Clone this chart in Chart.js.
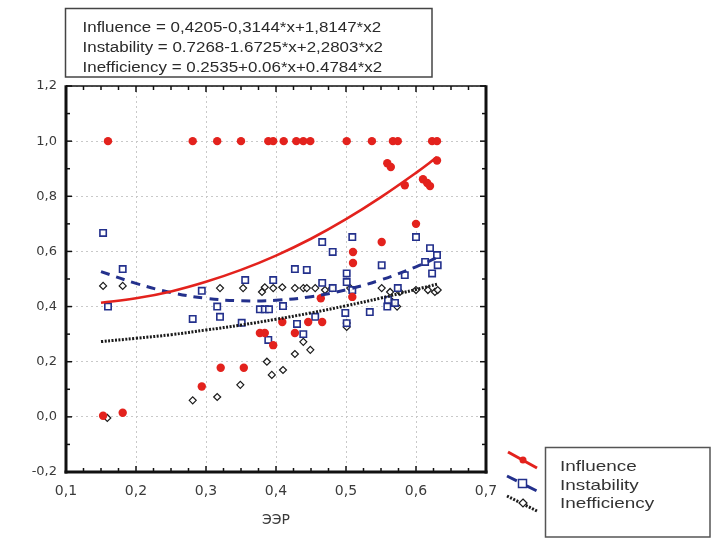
<!DOCTYPE html>
<html>
<head>
<meta charset="utf-8">
<script src="https://cdn.jsdelivr.net/npm/chart.js@4/dist/chart.umd.min.js"></script>
<style>
  html, body { margin: 0; padding: 0; background: #fff; }
  #wrap { width: 717px; height: 539px; position: relative; }
</style>
</head>
<body>
<div id="wrap"><canvas id="chart"></canvas></div>
<script>
// Series names and the fitted equations shown in the box
const seriesNames = ["Influence", "Instability", "Inefficiency"];
const equationLines = [
  "Influence = 0,4205-0,3144*x+1,8147*x2",
  "Instability = 0.7268-1.6725*x+2,2803*x2",
  "Inefficiency = 0.2535+0.06*x+0.4784*x2",
];
const xTitle = "ЭЭР";

// Influence points (red dots)
const influenceX = [0.153, 0.181, 0.16, 0.281, 0.294, 0.316, 0.321, 0.35, 0.354, 0.377, 0.384, 0.389, 0.396, 0.396, 0.409, 0.411, 0.427, 0.429, 0.439, 0.446, 0.449, 0.464, 0.466, 0.501, 0.509, 0.51, 0.51, 0.537, 0.551, 0.559, 0.564, 0.567, 0.574, 0.584, 0.6, 0.61, 0.616, 0.62, 0.623, 0.63, 0.63];
const influenceY = [0.004, 0.015, 1.0, 1.0, 0.11, 1.0, 0.178, 1.0, 0.178, 0.304, 0.304, 1.0, 1.0, 0.26, 0.344, 1.0, 0.304, 1.0, 1.0, 0.344, 1.0, 0.43, 0.344, 1.0, 0.435, 0.598, 0.558, 1.0, 0.634, 0.92, 0.906, 1.0, 1.0, 0.84, 0.7, 0.862, 0.848, 0.837, 1.0, 1.0, 0.93];

// Instability points (blue squares)
const instabilityX = [0.153, 0.16, 0.181, 0.281, 0.294, 0.316, 0.32, 0.351, 0.356, 0.377, 0.384, 0.39, 0.389, 0.396, 0.41, 0.427, 0.43, 0.439, 0.444, 0.456, 0.466, 0.466, 0.481, 0.481, 0.499, 0.501, 0.501, 0.501, 0.509, 0.509, 0.534, 0.551, 0.559, 0.56, 0.57, 0.574, 0.584, 0.6, 0.613, 0.62, 0.623, 0.63, 0.631];
const instabilityY = [0.667, 0.4, 0.536, 0.355, 0.457, 0.4, 0.363, 0.341, 0.496, 0.39, 0.39, 0.39, 0.279, 0.496, 0.402, 0.536, 0.337, 0.3, 0.533, 0.363, 0.634, 0.486, 0.598, 0.467, 0.377, 0.52, 0.489, 0.34, 0.652, 0.46, 0.38, 0.55, 0.4, 0.424, 0.413, 0.467, 0.514, 0.652, 0.562, 0.612, 0.52, 0.587, 0.55];

// Inefficiency points (black diamonds)
const inefficiencyX = [0.153, 0.159, 0.181, 0.281, 0.316, 0.32, 0.349, 0.353, 0.38, 0.384, 0.387, 0.394, 0.396, 0.409, 0.41, 0.427, 0.427, 0.439, 0.439, 0.444, 0.449, 0.456, 0.47, 0.48, 0.501, 0.501, 0.506, 0.551, 0.563, 0.566, 0.573, 0.577, 0.6, 0.617, 0.627, 0.631];
const inefficiencyY = [0.475, -0.004, 0.475, 0.06, 0.072, 0.467, 0.116, 0.467, 0.453, 0.47, 0.2, 0.152, 0.467, 0.47, 0.17, 0.467, 0.228, 0.467, 0.272, 0.467, 0.243, 0.467, 0.46, 0.467, 0.326, 0.34, 0.467, 0.467, 0.453, 0.417, 0.4, 0.453, 0.46, 0.46, 0.453, 0.46];

// Fitted curves
const fitX = [0.15, 0.2, 0.25, 0.3, 0.35, 0.4, 0.45, 0.5, 0.55, 0.6, 0.63];
const influenceFit = [0.414, 0.43, 0.455, 0.49, 0.533, 0.585, 0.646, 0.717, 0.797, 0.885, 0.942];
const instabilityFit = [0.527, 0.484, 0.451, 0.43, 0.421, 0.423, 0.436, 0.461, 0.497, 0.544, 0.578];
const inefficiencyFit = [0.273, 0.285, 0.298, 0.315, 0.333, 0.354, 0.377, 0.403, 0.431, 0.462, 0.481];

// Axis ranges
const xMin = 0.1, xMax = 0.7, xStep = 0.1;
const yMin = -0.2, yMax = 1.2, yStep = 0.2;

// Colours
const red = "#e3221d";
const blue = "#23308c";
const black = "#1a1a1a";

const toPoints = (xs, ys) => xs.map((x, i) => ({ x: x, y: ys[i] }));
const commaLabel = (v) => {
  const n = Math.abs(v) < 1e-9 ? 0 : Number(v);
  return n.toFixed(1).replace(".", ",");
};

// draw text squeezed wider, the source image is stretched sideways
function stretchText(ctx, text, x, y, sx) {
  ctx.save();
  ctx.translate(x, y);
  ctx.scale(sx, 1);
  ctx.fillText(text, 0, 0);
  ctx.restore();
}

function seg(ctx, x1, y1, x2, y2) {
  ctx.beginPath();
  ctx.moveTo(x1, y1);
  ctx.lineTo(x2, y2);
  ctx.stroke();
}

// Frame, inward ticks, equation box and legend
const decorations = {
  id: "decorations",
  afterDraw(chart) {
    const { ctx, chartArea: a, scales } = chart;
    const xs = scales.x, ys = scales.y;
    ctx.save();

    // ticks
    ctx.strokeStyle = "#111";
    ctx.lineWidth = 1.5;
    for (let k = 0; k <= Math.round((xMax - xMin) / 0.025); k++) {
      const v = xMin + k * 0.025;
      const px = xs.getPixelForValue(v);
      const len = k % 4 === 0 ? 6 : 4;
      seg(ctx, px, a.bottom, px, a.bottom - len);
      seg(ctx, px, a.top, px, a.top + len);
    }
    for (let k = 0; k <= Math.round((yMax - yMin) / 0.1); k++) {
      const v = yMin + k * 0.1;
      const py = ys.getPixelForValue(v);
      const len = k % 2 === 0 ? 6 : 4;
      seg(ctx, a.left, py, a.left + len, py);
      seg(ctx, a.right, py, a.right - len, py);
    }

    // frame
    ctx.strokeStyle = "#111";
    ctx.lineWidth = 1.5;
    seg(ctx, a.left, a.top, a.right, a.top);
    ctx.lineWidth = 3;
    seg(ctx, a.left, a.top - 0.75, a.left, a.bottom + 1.5);
    seg(ctx, a.left - 1.5, a.bottom, a.right + 1.5, a.bottom);
    seg(ctx, a.right, a.top - 0.75, a.right, a.bottom + 1.5);

    // equation box
    ctx.lineWidth = 1.5;
    ctx.strokeStyle = "#444";
    ctx.strokeRect(65.5, 8.5, 366.5, 68.5);
    ctx.save();
    ctx.beginPath();
    ctx.rect(66.5, 9.5, 364.5, 66);
    ctx.clip();
    ctx.fillStyle = "#2a2a2a";
    ctx.font = "14px 'Liberation Sans', Arial, sans-serif";
    ctx.textBaseline = "alphabetic";
    ctx.textAlign = "left";
    equationLines.forEach((t, i) => stretchText(ctx, t, 82.5, 31.5 + i * 20, 1.21));
    ctx.restore();

    // legend box
    ctx.strokeStyle = "#555";
    ctx.lineWidth = 1.5;
    ctx.strokeRect(545.5, 447.5, 164.5, 89.5);
    ctx.fillStyle = "#333";
    ctx.font = "15px 'Liberation Sans', Arial, sans-serif";
    seriesNames.forEach((t, i) => stretchText(ctx, t, 560, 471 + i * 18.5, 1.26));

    // legend symbols, drawn at a slant like the original
    const ds = chart.data.datasets;
    ctx.lineWidth = 3;
    ctx.strokeStyle = ds[3].borderColor;
    ctx.setLineDash([]);
    seg(ctx, 508, 452, 537, 468);
    ctx.fillStyle = ds[0].backgroundColor;
    ctx.beginPath();
    ctx.arc(523, 460, 3.5, 0, Math.PI * 2);
    ctx.fill();

    ctx.strokeStyle = ds[4].borderColor;
    ctx.setLineDash([11, 11]);
    seg(ctx, 507, 476, 537, 491);
    ctx.setLineDash([]);
    ctx.lineWidth = 1.5;
    ctx.fillStyle = "#fff";
    ctx.fillRect(518.5, 479.5, 8, 8);
    ctx.strokeStyle = ds[1].borderColor;
    ctx.strokeRect(518.5, 479.5, 8, 8);

    ctx.lineWidth = 3;
    ctx.strokeStyle = ds[5].borderColor;
    ctx.setLineDash(ds[5].borderDash);
    seg(ctx, 507, 496, 537, 511);
    ctx.setLineDash([]);
    ctx.lineWidth = 1.2;
    ctx.fillStyle = "#fff";
    ctx.strokeStyle = ds[2].borderColor;
    ctx.beginPath();
    ctx.moveTo(523, 499);
    ctx.lineTo(527, 503);
    ctx.lineTo(523, 507);
    ctx.lineTo(519, 503);
    ctx.closePath();
    ctx.fill();
    ctx.stroke();

    ctx.restore();
  },
};

const chart = new Chart(document.getElementById("chart"), {
  type: "scatter",
  data: {
    datasets: [
      {
        label: seriesNames[0],
        data: toPoints(influenceX, influenceY),
        pointStyle: "circle",
        pointRadius: 4.2,
        backgroundColor: red,
        borderColor: red,
        borderWidth: 0,
        order: 2,
      },
      {
        label: seriesNames[1],
        data: toPoints(instabilityX, instabilityY),
        pointStyle: "rect",
        pointRadius: 4.5,
        backgroundColor: "rgba(255,255,255,0.9)",
        borderColor: blue,
        borderWidth: 1.6,
        order: 3,
      },
      {
        label: seriesNames[2],
        data: toPoints(inefficiencyX, inefficiencyY),
        pointStyle: "rectRot",
        pointRadius: 3.5,
        backgroundColor: "rgba(255,255,255,0.9)",
        borderColor: black,
        borderWidth: 1.2,
        order: 4,
      },
      {
        label: seriesNames[0] + " fit",
        data: toPoints(fitX, influenceFit),
        showLine: true,
        pointRadius: 0,
        borderColor: red,
        borderWidth: 2.6,
        tension: 0.4,
        order: 1,
      },
      {
        label: seriesNames[1] + " fit",
        data: toPoints(fitX, instabilityFit),
        showLine: true,
        pointRadius: 0,
        borderColor: blue,
        borderWidth: 3,
        borderDash: [9, 7],
        tension: 0.4,
        order: 1,
      },
      {
        label: seriesNames[2] + " fit",
        data: toPoints(fitX, inefficiencyFit),
        showLine: true,
        pointRadius: 0,
        borderColor: black,
        borderWidth: 3,
        borderDash: [2, 1.5],
        tension: 0.4,
        order: 1,
      },
    ],
  },
  options: {
    responsive: true,
    maintainAspectRatio: false,
    animation: false,
    layout: { padding: { left: 0, top: 86, right: 231, bottom: 0 } },
    plugins: {
      legend: { display: false },
      tooltip: { enabled: false },
    },
    scales: {
      x: {
        type: "linear",
        min: xMin,
        max: xMax,
        afterFit: (s) => { s.height = 67; },
        ticks: {
          stepSize: xStep,
          autoSkip: false,
          maxRotation: 0,
          padding: 11,
          color: "#3a3a3a",
          font: { family: "'DejaVu Sans'", size: 14 },
          callback: commaLabel,
        },
        grid: { color: "#c9c9c9", lineWidth: 1, drawTicks: false },
        border: { display: false, dash: [2, 3] },
        title: {
          display: true,
          text: xTitle,
          color: "#3a3a3a",
          font: { family: "'DejaVu Sans'", size: 14 },
          padding: { top: 0, bottom: 10 },
        },
      },
      y: {
        type: "linear",
        min: yMin,
        max: yMax,
        afterFit: (s) => { s.width = 66; },
        ticks: {
          stepSize: yStep,
          padding: 9,
          color: "#3a3a3a",
          font: { family: "'DejaVu Sans'", size: 13 },
          callback: commaLabel,
        },
        grid: { color: "#c9c9c9", lineWidth: 1, drawTicks: false },
        border: { display: false, dash: [2, 3] },
      },
    },
  },
  plugins: [decorations],
});
</script>
</body>
</html>
